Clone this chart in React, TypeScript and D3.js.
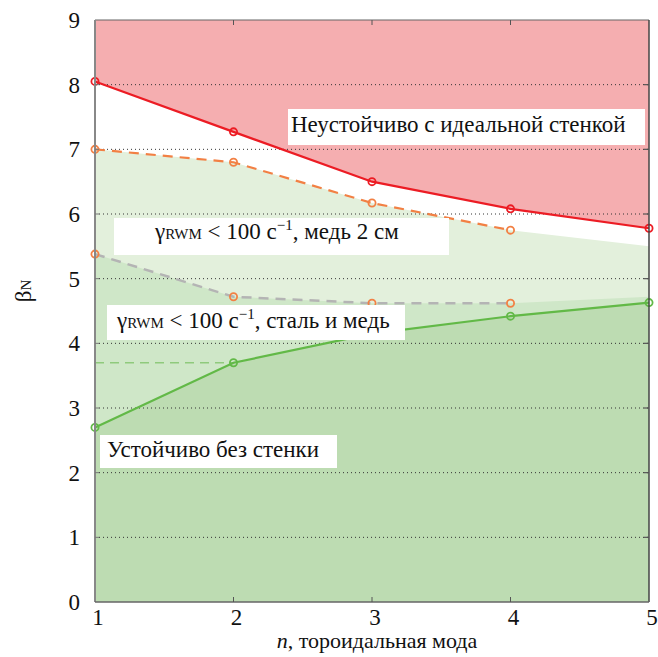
import React from "react";
import * as d3 from "d3";

const modes = [1, 2, 3, 4, 5];
const idealWall = [8.05, 7.27, 6.5, 6.08, 5.78];
const copperModes = [1, 2, 3, 4];
const copperWall = [7.0, 6.8, 6.17, 5.75];
const copperFill = [7.0, 6.8, 6.17, 5.75, 5.5];
const steelCopper = [5.38, 4.72, 4.62, 4.62];
const steelFill = [5.38, 4.72, 4.62, 4.62, 4.72];
const noWall = [2.7, 3.7, 4.15, 4.42, 4.63];
const noWallRefModes = [1, 2];
const noWallRef = [3.7, 3.7];
const xTicks = [1, 2, 3, 4, 5];
const yTicks = [0, 1, 2, 3, 4, 5, 6, 7, 8, 9];

const W = 658, H = 657;
const FONT = "Liberation Serif";

function T(props: any) {
  const { children, ...rest } = props;
  return (
    <text fontFamily={FONT} style={{ fontFamily: `"${FONT}", monospace` }} fill="#111" {...rest}>
      {children}
    </text>
  );
}

export default function App() {
  const x = d3.scaleLinear().domain([1, 5]).range([95, 649]);
  const y = d3.scaleLinear().domain([0, 9]).range([602, 20]);

  const line = (xs: number[], ys: number[]) =>
    d3.line<number>().x((_, i) => x(xs[i])).y((d) => y(d))(ys) as string;
  const areaBelow = (xs: number[], ys: number[]) =>
    d3.area<number>().x((_, i) => x(xs[i])).y0(y(0)).y1((d) => y(d))(ys) as string;
  const areaAbove = (xs: number[], ys: number[]) =>
    d3.area<number>().x((_, i) => x(xs[i])).y0(y(9)).y1((d) => y(d))(ys) as string;

  const red = "#ec1c24";
  const orange = "#f28044";
  const green = "#62b947";

  const markers = (xs: number[], ys: number[], color: string) =>
    ys.map((v, i) => (
      <circle key={i} cx={x(xs[i])} cy={y(v)} r={3.6} fill="none" stroke={color} strokeWidth={1.8} />
    ));

  const sub = 15;

  return (
    <div style={{ position: "absolute", left: 0, top: 0 }}>
      <svg width={W} height={H}>
        <rect x={0} y={0} width={W} height={H} fill="#fff" />
        {/* fills */}
        <path d={areaAbove(modes, idealWall)} fill="#f5aeb0" />
        <path d={areaBelow(modes, copperFill)} fill="#e3f0dc" />
        <path d={areaBelow(modes, steelFill)} fill="#cfe7c8" />
        <path d={areaBelow(modes, noWall)} fill="#bddcb2" />

        {/* grid */}
        {yTicks.slice(1, 9).map((t) => (
          <line key={t} x1={x(1)} x2={x(5)} y1={y(t)} y2={y(t)} stroke="#333" strokeWidth={1} strokeDasharray="1,3" />
        ))}
        <line x1={x(1)} x2={x(5)} y1={y(9)} y2={y(9)} stroke="#666" strokeWidth={1.2} />

        {/* lines */}
        <path d={line(noWallRefModes, noWallRef)} fill="none" stroke="#8fca7c" strokeWidth={1.5} strokeDasharray="9,6" />
        <path d={line(copperModes, steelCopper)} fill="none" stroke="#b4b4b4" strokeWidth={2.5} strokeDasharray="10,7" />
        <path d={line(copperModes, copperWall)} fill="none" stroke={orange} strokeWidth={2.2} strokeDasharray="10,7" />
        <path d={line(modes, idealWall)} fill="none" stroke={red} strokeWidth={2.2} />
        <path d={line(modes, noWall)} fill="none" stroke={green} strokeWidth={2.2} />

        {/* markers */}
        {markers(modes, idealWall, red)}
        {markers(copperModes, copperWall, orange)}
        {markers(copperModes, steelCopper, orange)}
        {markers(modes, noWall, green)}

        {/* label boxes */}
        <rect x={288} y={109} width={357} height={36} fill="#fff" />
        <T x={291} y={132} fontSize={23}>Неустойчиво с идеальной стенкой</T>

        <rect x={114} y={218} width={335} height={37} fill="#fff" />
        <T x={155} y={239} fontSize={23}>
          γ<tspan fontSize={sub}>RWM</tspan> &lt; 100 с<tspan fontSize={sub} dy={-9}>−1</tspan>
          <tspan dy={9}>, медь 2 см</tspan>
        </T>

        <rect x={107} y={305} width={298} height={35} fill="#fff" />
        <T x={117} y={328} fontSize={23}>
          γ<tspan fontSize={sub}>RWM</tspan> &lt; 100 с<tspan fontSize={sub} dy={-9}>−1</tspan>
          <tspan dy={9}>, сталь и медь</tspan>
        </T>

        <rect x={100} y={435} width={237} height={33} fill="#fff" />
        <T x={107} y={457} fontSize={23}>Устойчиво без стенки</T>

        {/* axes frame */}
        <line x1={x(1)} x2={x(1)} y1={y(9)} y2={y(0)} stroke="#888" strokeWidth={2} />
        <line x1={x(5)} x2={x(5)} y1={y(9)} y2={y(0)} stroke="#444" strokeWidth={1.5} />
        <line x1={x(1)} x2={x(5)} y1={y(0)} y2={y(0)} stroke="#666" strokeWidth={1.5} />

        {/* ticks */}
        {xTicks.slice(1, 4).map((t) => (
          <g key={t}>
            <line x1={x(t)} x2={x(t)} y1={y(0)} y2={y(0) - 5} stroke="#555" strokeWidth={1} />
            <line x1={x(t)} x2={x(t)} y1={y(9)} y2={y(9) + 5} stroke="#555" strokeWidth={1} />
          </g>
        ))}
        {yTicks.slice(1, 9).map((t) => (
          <g key={t}>
            <line x1={x(5)} x2={x(5) - 5} y1={y(t)} y2={y(t)} stroke="#555" strokeWidth={1.2} />
            <line x1={x(1)} x2={x(1) + 4} y1={y(t)} y2={y(t)} stroke="#777" strokeWidth={1} />
          </g>
        ))}

        {/* tick labels */}
        {yTicks.map((t) => (
          <T key={t} x={80} y={y(t) + 8} fontSize={23} textAnchor="end">{t}</T>
        ))}
        {xTicks.map((t) => (
          <T key={t} x={x(t) + 3} y={625} fontSize={23} textAnchor="middle">{t}</T>
        ))}

        {/* axis titles */}
        <T x={377} y={648} fontSize={22} textAnchor="middle">
          <tspan fontStyle="italic">n</tspan>, тороидальная мода
        </T>
        <T transform="translate(31,291) rotate(-90)" fontSize={23} textAnchor="middle">
          β<tspan fontSize={15}>N</tspan>
        </T>
      </svg>
    </div>
  );
}
